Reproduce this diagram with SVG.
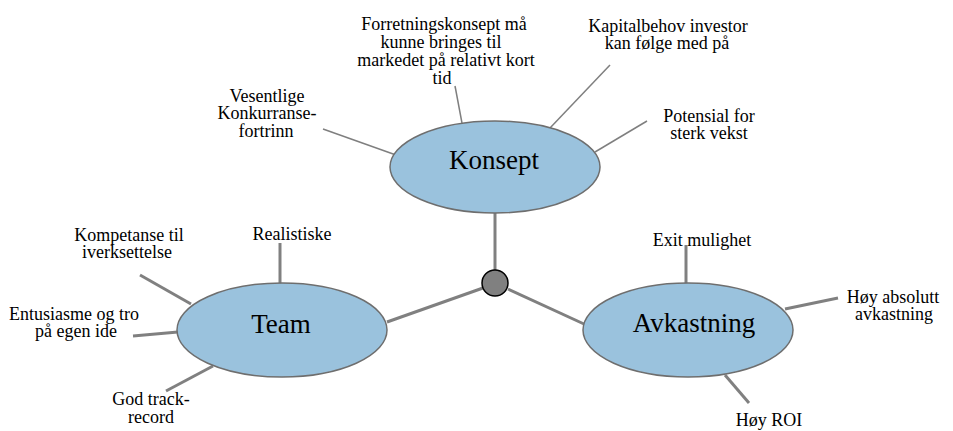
<svg xmlns="http://www.w3.org/2000/svg" width="953" height="431" viewBox="0 0 953 431">
<style>
.bg{fill:#ffffff}
.hub{stroke:#808080;stroke-width:3;fill:none}
.sp1{stroke:#7f7f7f;stroke-width:1.5;fill:none}
.sp2{stroke:#808080;stroke-width:3;fill:none}
.node ellipse{fill:#9ac2dd;stroke:#6e6e6e;stroke-width:1.5}
text{font-family:"Liberation Serif","Times New Roman",Tinos,"DejaVu Serif","Noto Serif",serif;fill:#000;text-anchor:middle}
.big{font-size:27px}
.lbl{font-size:18px}
</style>
<rect class="bg" x="0" y="0" width="953" height="431"/>
<g id="connectors">
<line class="hub" x1="495" y1="213" x2="495" y2="270"/>
<line class="hub" x1="387" y1="322" x2="483" y2="288"/>
<line class="hub" x1="508" y1="289" x2="584" y2="324"/>
<line class="sp1" x1="323" y1="129" x2="396" y2="155"/>
<line class="sp1" x1="455" y1="86" x2="462" y2="123"/>
<line class="sp1" x1="610" y1="65" x2="550" y2="128"/>
<line class="sp1" x1="647" y1="121" x2="595" y2="152"/>
<line class="sp2" x1="280" y1="243" x2="280" y2="285"/>
<line class="sp2" x1="140" y1="275" x2="191" y2="304"/>
<line class="sp2" x1="133" y1="336" x2="178" y2="332"/>
<line class="sp2" x1="166" y1="391" x2="213" y2="366"/>
<line class="sp2" x1="686" y1="245" x2="686" y2="284"/>
<line class="sp2" x1="838" y1="298" x2="785" y2="309"/>
<line class="sp2" x1="725" y1="375" x2="749" y2="403"/>
</g>
<g id="konsept" class="node">
<ellipse cx="495" cy="167" rx="105" ry="46"/>
<text class="big" x="494" y="169">Konsept</text>
</g>
<g id="team" class="node">
<ellipse cx="282" cy="330" rx="105" ry="47"/>
<text class="big" x="281" y="333">Team</text>
</g>
<g id="avkastning" class="node">
<ellipse cx="688" cy="330" rx="105" ry="47"/>
<text class="big" x="694" y="332">Avkastning</text>
</g>
<g id="hub">
<circle cx="495" cy="283" r="13" fill="#808080" stroke="#000" stroke-width="1.5"/>
</g>
<g id="forretningskonsept">
<text class="lbl" x="444" y="30">Forretningskonsept må</text>
<text class="lbl" x="441" y="48">kunne bringes til</text>
<text class="lbl" x="446" y="66">markedet på relativt kort</text>
<text class="lbl" x="442" y="84">tid</text>
</g>
<g id="kapitalbehov">
<text class="lbl" x="668" y="32">Kapitalbehov investor</text>
<text class="lbl" x="667" y="49">kan følge med på</text>
</g>
<g id="potensial">
<text class="lbl" x="709" y="122">Potensial for</text>
<text class="lbl" x="709" y="139">sterk vekst</text>
</g>
<g id="vesentlige">
<text class="lbl" x="267" y="102">Vesentlige</text>
<text class="lbl" x="267" y="119">Konkurranse-</text>
<text class="lbl" x="266" y="137">fortrinn</text>
</g>
<g id="kompetanse">
<text class="lbl" x="129" y="241">Kompetanse til</text>
<text class="lbl" x="127" y="258">iverksettelse</text>
</g>
<g id="entusiasme">
<text class="lbl" x="74" y="320">Entusiasme og tro</text>
<text class="lbl" x="76" y="337">på egen ide</text>
</g>
<g id="godtrack">
<text class="lbl" x="151" y="405">God track-</text>
<text class="lbl" x="151" y="423">record</text>
</g>
<g id="realistiske">
<text class="lbl" x="292" y="240">Realistiske</text>
</g>
<g id="exit">
<text class="lbl" x="702" y="246">Exit mulighet</text>
</g>
<g id="hoyabsolutt">
<text class="lbl" x="893" y="303">Høy absolutt</text>
<text class="lbl" x="894" y="320">avkastning</text>
</g>
<g id="hoyroi">
<text class="lbl" x="769" y="426">Høy ROI</text>
</g>
</svg>
